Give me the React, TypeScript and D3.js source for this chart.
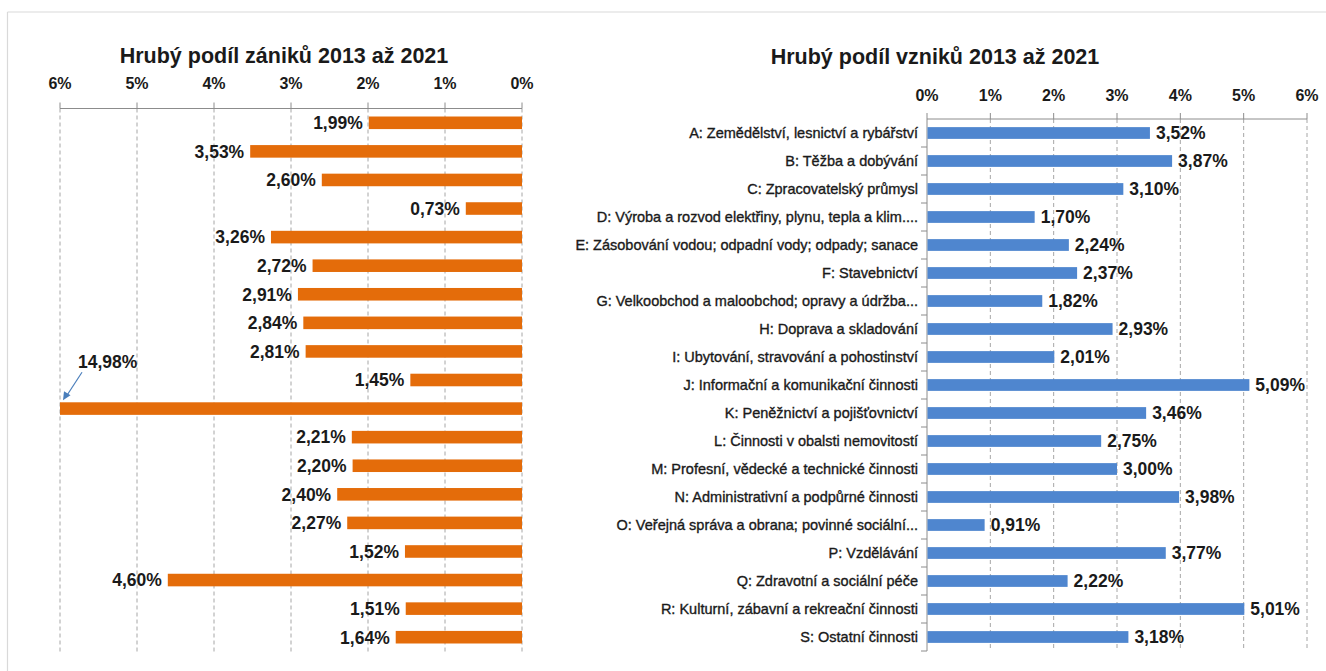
import React from "react";
import * as d3 from "d3";

const categories = [
  "A: Zemědělství, lesnictví a rybářství",
  "B: Těžba a dobývání",
  "C: Zpracovatelský průmysl",
  "D: Výroba a rozvod elektřiny, plynu, tepla a klim....",
  "E: Zásobování vodou; odpadní vody; odpady; sanace",
  "F: Stavebnictví",
  "G: Velkoobchod a maloobchod; opravy a údržba...",
  "H: Doprava a skladování",
  "I: Ubytování, stravování a pohostinství",
  "J: Informační a komunikační činnosti",
  "K: Peněžnictví a pojišťovnictví",
  "L: Činnosti v obalsti nemovitostí",
  "M: Profesní, vědecké a technické činnosti",
  "N: Administrativní a podpůrné činnosti",
  "O: Veřejná správa a obrana; povinné sociální...",
  "P: Vzdělávání",
  "Q: Zdravotní a sociální péče",
  "R: Kulturní, zábavní a rekreační činnosti",
  "S: Ostatní činnosti",
];

const closures = [1.99, 3.53, 2.6, 0.73, 3.26, 2.72, 2.91, 2.84, 2.81, 1.45, 14.98, 2.21, 2.2, 2.4, 2.27, 1.52, 4.6, 1.51, 1.64];
const births = [3.52, 3.87, 3.1, 1.7, 2.24, 2.37, 1.82, 2.93, 2.01, 5.09, 3.46, 2.75, 3.0, 3.98, 0.91, 3.77, 2.22, 5.01, 3.18];
const ticks = [0, 1, 2, 3, 4, 5, 6];

const titleLeft = "Hrubý podíl zániků 2013 až 2021";
const titleRight = "Hrubý podíl vzniků 2013 až 2021";

const FONT = "'Liberation Sans', Arial, sans-serif";
const ORANGE = "#e46c0a";
const BLUE = "#4f86cf";
const TEXT = "#1a1a1a";
const fmt = (v: number) => v.toFixed(2).replace(".", ",") + "%";
const fmtTick = (v: number) => `${v}%`;

export default function App() {
  const W = 1326, H = 671;
  // left chart
  const xL = d3.scaleLinear().domain([0, 6]).range([522, 60]).clamp(true);
  const yL = d3.scaleBand<number>().domain(d3.range(closures.length)).range([108.5, 651.5]).paddingInner(0.56).paddingOuter(0.28);
  // right chart
  const xR = d3.scaleLinear().domain([0, 6]).range([927, 1307]).clamp(true);
  const yR = d3.scaleBand<number>().domain(d3.range(births.length)).range([119, 651]).paddingInner(0.58).paddingOuter(0.29);
  const bandR = d3.scaleBand<number>().domain(d3.range(births.length)).range([119, 651]);

  const topL = 108.5, botL = 651.5, topR = 119, botR = 651;
  const VAL = 17.5;

  return (
    <svg width={W} height={H} style={{ position: "absolute", left: 0, top: 0, background: "#fff" }} fontFamily={FONT}>
      <rect x={0} y={0} width={W} height={H} fill="#fff" />
      <line x1={7.5} y1={12} x2={W} y2={12} stroke="#d9d9d9" strokeWidth={1.2} />
      <line x1={7.5} y1={12} x2={7.5} y2={H} stroke="#d9d9d9" strokeWidth={1.2} />

      {/* LEFT CHART */}
      <text x={284} y={63} textAnchor="middle" fontSize={21.5} fontWeight="bold" fill={TEXT}>{titleLeft}</text>
      {ticks.map((t) => (
        <g key={"lt" + t}>
          <line x1={xL(t)} x2={xL(t)} y1={topL} y2={botL} stroke="#a6a6a6" strokeDasharray="4,3" strokeWidth={1} />
          <line x1={xL(t)} x2={xL(t)} y1={topL - 6} y2={topL} stroke="#8c8c8c" strokeWidth={1} />
          <text x={xL(t)} y={89} textAnchor="middle" fontSize={16} fontWeight="bold" fill={TEXT}>{fmtTick(t)}</text>
        </g>
      ))}
      <line x1={xL(6)} x2={xL(0)} y1={topL} y2={topL} stroke="#8c8c8c" strokeWidth={1} />
      {closures.map((v, i) => {
        const y = yL(i)!;
        const h = yL.bandwidth();
        const x0 = xL(v);
        return (
          <g key={"lb" + i}>
            <rect x={x0} y={y} width={xL(0) - x0} height={h} fill={ORANGE} />
            {v <= 6 && (
              <text x={x0 - 6} y={y + h / 2} dy="0.36em" textAnchor="end" fontSize={VAL} fontWeight="bold" fill={TEXT}>{fmt(v)}</text>
            )}
          </g>
        );
      })}
      {closures.map((v, i) => {
        if (v <= 6) return null;
        const y = yL(i)!;
        return (
          <g key={"arrow" + i}>
            <text x={78} y={y - 41} dy="0.36em" textAnchor="start" fontSize={VAL} fontWeight="bold" fill={TEXT}>{fmt(v)}</text>
            <line x1={82} y1={y - 30} x2={67} y2={y - 7} stroke="#4a7ebb" strokeWidth={1.2} />
            <path d={`M${63},${y - 2} L${64},${y - 11} L${70.5},${y - 7} Z`} fill="#4a7ebb" />
          </g>
        );
      })}

      {/* RIGHT CHART */}
      <text x={935} y={64} textAnchor="middle" fontSize={21.5} fontWeight="bold" fill={TEXT}>{titleRight}</text>
      {ticks.map((t) => (
        <g key={"rt" + t}>
          {t > 0 && <line x1={xR(t)} x2={xR(t)} y1={topR} y2={botR} stroke="#a6a6a6" strokeDasharray="4,3" strokeWidth={1} />}
          <line x1={xR(t)} x2={xR(t)} y1={topR - 6} y2={topR} stroke="#8c8c8c" strokeWidth={1} />
          <text x={xR(t)} y={101} textAnchor="middle" fontSize={16} fontWeight="bold" fill={TEXT}>{fmtTick(t)}</text>
        </g>
      ))}
      <line x1={xR(0)} x2={xR(6)} y1={topR} y2={topR} stroke="#8c8c8c" strokeWidth={1} />
      <line x1={xR(0)} x2={xR(0)} y1={topR} y2={botR} stroke="#8c8c8c" strokeWidth={1} />
      {births.map((_, i) => (
        <line key={"ct" + i} x1={xR(0) - 6} x2={xR(0)} y1={bandR(i)! + bandR.bandwidth()} y2={bandR(i)! + bandR.bandwidth()} stroke="#8c8c8c" strokeWidth={1} />
      ))}
      {births.map((v, i) => {
        const y = yR(i)!;
        const h = yR.bandwidth();
        const x1 = xR(v);
        return (
          <g key={"rb" + i}>
            <rect x={xR(0) + 0.5} y={y} width={x1 - xR(0) - 0.5} height={h} fill={BLUE} />
            <text x={x1 + 6} y={y + h / 2} dy="0.36em" textAnchor="start" fontSize={VAL} fontWeight="bold" fill={TEXT}>{fmt(v)}</text>
            <text x={xR(0) - 9} y={y + h / 2} dy="0.36em" textAnchor="end" fontSize={14.5} fill={TEXT} stroke={TEXT} strokeWidth={0.35}>{categories[i]}</text>
          </g>
        );
      })}
    </svg>
  );
}
